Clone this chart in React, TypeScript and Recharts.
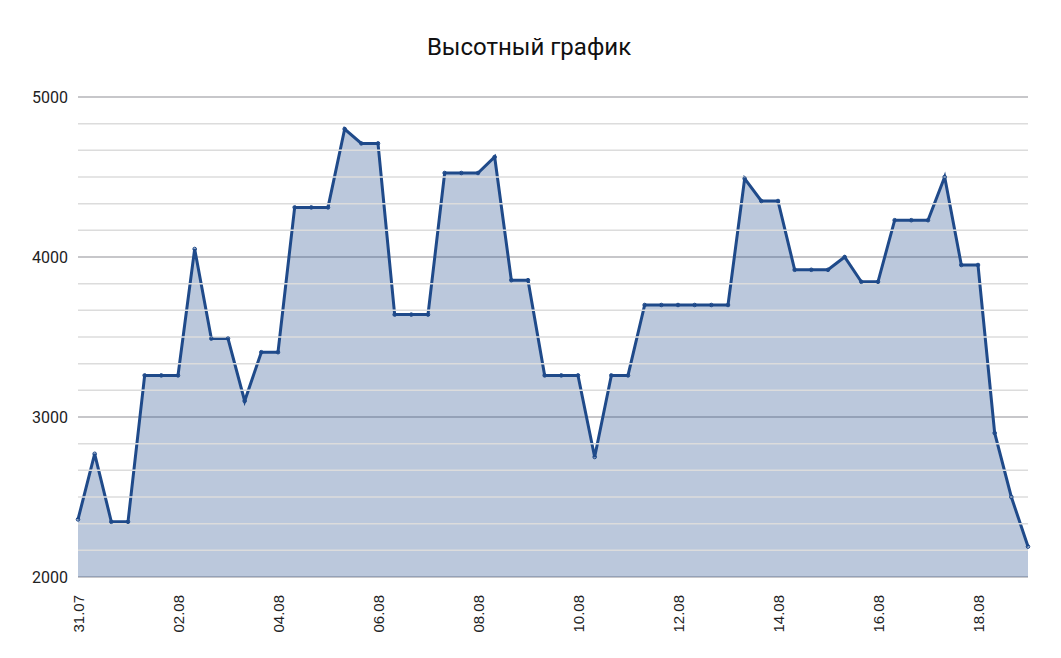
import React from "react";
import { AreaChart, Area, XAxis, YAxis, CartesianGrid, ReferenceLine } from "recharts";

// Altitude values, one reading every 8 hours starting 31.07 00:00
const altitudes = [
  2360, 2770, 2345, 2345, 3260, 3260, 3260, 4050, 3490, 3490,
  3100, 3405, 3405, 4310, 4310, 4310, 4800, 4710, 4710, 3640,
  3640, 3640, 4525, 4525, 4525, 4625, 3855, 3855, 3260, 3260,
  3260, 2750, 3260, 3260, 3700, 3700, 3700, 3700, 3700, 3700,
  4490, 4350, 4350, 3920, 3920, 3920, 4000, 3845, 3845, 4230,
  4230, 4230, 4500, 3950, 3950, 2900, 2500, 2190,
];
const stepHours = 8;
const dateLabels = ["31.07", "02.08", "04.08", "06.08", "08.08", "10.08", "12.08", "14.08", "16.08", "18.08"];
const dateTickHours = [0, 48, 96, 144, 192, 240, 288, 336, 384, 432];
const majorTicks = [2000, 3000, 4000, 5000];
const minorTicks = [2166.67, 2333.33, 2500, 2666.67, 2833.33, 3166.67, 3333.33, 3500, 3666.67, 3833.33, 4166.67, 4333.33, 4500, 4666.67, 4833.33];

const data = altitudes.map((v, i) => ({ h: i * stepHours, alt: v }));

const XTick = (props: any) => {
  const { x, y, payload } = props;
  const idx = dateTickHours.indexOf(payload.value);
  const label = idx >= 0 ? dateLabels[idx] : "";
  return (
    <text
      x={x}
      y={y + 10}
      transform={`rotate(-90, ${x}, ${y + 10})`}
      textAnchor="end"
      dominantBaseline="central"
      fontFamily="'Liberation Sans', Arial, sans-serif"
      fontSize={15}
      fill="#222"
    >
      {label}
    </text>
  );
};

export default function App() {
  return (
    <div style={{ position: "absolute", left: 0, top: 0, width: 1061, height: 658, background: "#fff" }}>
      <div
        style={{
          position: "absolute",
          left: 0,
          top: 33,
          width: 1058,
          textAlign: "center",
          fontFamily: "Roboto, sans-serif",
          fontSize: 24,
          color: "#111",
          lineHeight: "28px",
        }}
      >
        Высотный график
      </div>
      <AreaChart
        width={1061}
        height={658}
        data={data}
        margin={{ top: 97, right: 33, bottom: 21, left: 0 }}
      >
        {minorTicks.map((t) => (
          <ReferenceLine key={t} y={t} stroke="#dcdcdc" strokeWidth={1.5} />
        ))}
        <CartesianGrid vertical={false} stroke="#b4b4b8" strokeWidth={1.5} />
        <XAxis
          dataKey="h"
          type="number"
          domain={[0, (altitudes.length - 1) * stepHours]}
          ticks={dateTickHours}
          tick={<XTick />}
          tickLine={false}
          axisLine={false}
          height={60}
          interval={0}
        />
        <YAxis
          type="number"
          domain={[2000, 5000]}
          ticks={majorTicks}
          width={78}
          tickLine={false}
          axisLine={false}
          tickMargin={4}
          tick={{ fontFamily: "Roboto, sans-serif", fontSize: 16, fill: "#222" }}
          interval={0}
        />
        <Area
          type="linear"
          dataKey="alt"
          stroke="#1f4a8a"
          strokeWidth={3}
          fill="#1f4a8a"
          fillOpacity={0.3}
          dot={{ r: 1.8, fill: "#1f4a8a", stroke: "#1f4a8a", strokeWidth: 1 }}
          activeDot={false}
          isAnimationActive={false}
          baseValue={2000}
        />
      </AreaChart>
    </div>
  );
}
